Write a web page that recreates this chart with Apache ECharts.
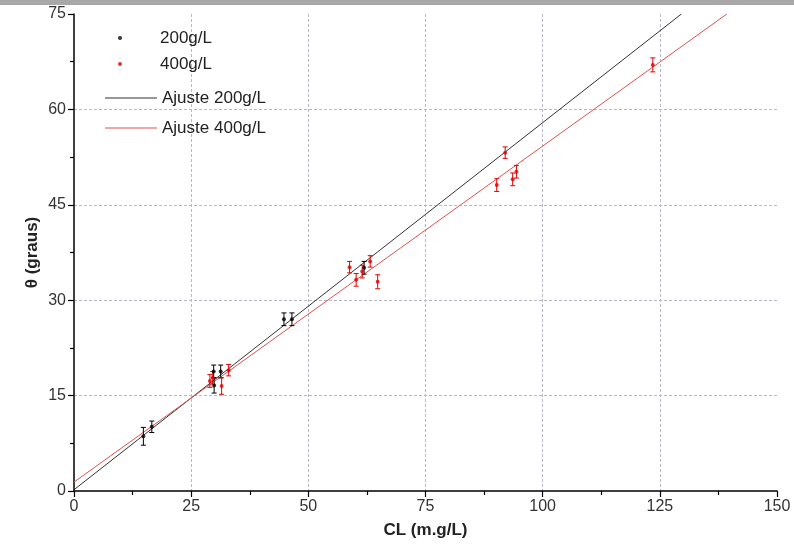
<!DOCTYPE html>
<html>
<head>
<meta charset="utf-8">
<script src="https://cdn.jsdelivr.net/npm/echarts@6/dist/echarts.min.js"></script>
<style>html,body{margin:0;padding:0;background:#fff}#c{width:794px;height:556px}</style>
</head>
<body>
<div id="c"></div>
<script>
// 200g/L measurements
const x200 = [14.8, 16.6, 29.8, 31.3, 29.9, 44.8, 46.5, 61.9];
const y200 = [8.6, 10.1, 18.8, 18.8, 16.6, 27.0, 27.0, 35.1];
const e200 = [1.4, 0.9, 1.0, 1.0, 1.2, 1.0, 1.0, 1.0];
// 400g/L measurements
const x400 = [29.0, 29.6, 31.5, 33.0, 58.8, 60.2, 61.5, 63.2, 64.8, 90.2, 92.0, 93.6, 94.4, 123.5];
const y400 = [17.3, 17.8, 16.5, 19.0, 35.2, 33.2, 34.5, 36.1, 32.9, 48.1, 53.2, 49.0, 50.2, 67.0];
const e400 = [1.0, 1.0, 1.3, 0.9, 0.9, 1.0, 1.0, 0.9, 1.1, 1.0, 0.9, 1.0, 1.0, 1.1];
// fit lines (endpoints)
const fit200X = [0, 129.6];
const fit200Y = [0.2, 75];
const fit400X = [0, 139.3];
const fit400Y = [1.4, 75];
// ticks
const xTicks = [0, 25, 50, 75, 100, 125, 150];
const yTicks = [0, 15, 30, 45, 60, 75];

const pts = (xs, ys) => xs.map((x, i) => [x, ys[i]]);
const errs = (xs, ys, es) => xs.map((x, i) => [x, ys[i] - es[i], ys[i] + es[i]]);

function errRender(color) {
  return function (params, api) {
    const x = api.value(0);
    const lo = api.coord([x, api.value(1)]);
    const hi = api.coord([x, api.value(2)]);
    const w = 2.5;
    const st = { stroke: color, lineWidth: 1 };
    return {
      type: 'group',
      children: [
        { type: 'line', shape: { x1: lo[0], y1: lo[1], x2: hi[0], y2: hi[1] }, style: st },
        { type: 'line', shape: { x1: lo[0] - w, y1: lo[1], x2: lo[0] + w, y2: lo[1] }, style: st },
        { type: 'line', shape: { x1: hi[0] - w, y1: hi[1], x2: hi[0] + w, y2: hi[1] }, style: st }
      ]
    };
  };
}

const FONT = 'Liberation Sans';
const chart = echarts.init(document.getElementById('c'), null, { renderer: 'canvas' });
const gridLine = { show: true, showMinLine: false, showMaxLine: false, lineStyle: { color: '#b8b8c8', type: [3, 2], width: 1 } };

chart.setOption({
  animation: false,
  backgroundColor: '#fff',
  textStyle: { fontFamily: FONT },
  graphic: [{ type: 'rect', left: 0, top: 0, shape: { width: 794, height: 5 }, style: { fill: '#a8a8a8' } }],
  grid: { left: 74, right: 17, top: 14, bottom: 65 },
  legend: [
    {
      data: ['200g/L', '400g/L'],
      orient: 'vertical', left: 113, top: 23,
      itemWidth: 4, itemHeight: 4, itemGap: 6, icon: 'circle',
      textStyle: { fontSize: 17, color: '#222', fontFamily: FONT, lineHeight: 20, padding: [0, 0, 0, 33] }
    },
    {
      data: ['Ajuste 200g/L', 'Ajuste 400g/L'],
      orient: 'vertical', left: 100, top: 83,
      itemWidth: 52, itemHeight: 1.2, itemGap: 10, icon: 'rect',
      textStyle: { fontSize: 17, color: '#222', fontFamily: FONT, lineHeight: 20 }
    }
  ],
  xAxis: {
    type: 'value', min: xTicks[0], max: xTicks[xTicks.length - 1], interval: 25,
    name: 'CL (m.g/L)', nameLocation: 'middle', nameGap: 31, nameMoveOverlap: false,
    nameTextStyle: { fontSize: 17, fontWeight: 'bold', color: '#222', fontFamily: FONT },
    axisLine: { show: true, onZero: false, lineStyle: { color: '#000', width: 1.5 } },
    axisTick: { show: true, length: 6, lineStyle: { color: '#000', width: 1.2 } },
    minorTick: { show: true, splitNumber: 2, length: 4, lineStyle: { color: '#000', width: 1.2 } },
    axisLabel: { fontSize: 16, color: '#333', margin: 8, fontFamily: FONT },
    splitLine: gridLine
  },
  yAxis: {
    type: 'value', min: yTicks[0], max: yTicks[yTicks.length - 1], interval: 15,
    name: 'θ (graus)', nameLocation: 'middle', nameGap: 33, nameRotate: 90, nameMoveOverlap: false,
    nameTextStyle: { fontSize: 17, fontWeight: 'bold', color: '#222', fontFamily: FONT },
    axisLine: { show: true, onZero: false, lineStyle: { color: '#000', width: 1.5 } },
    axisTick: { show: true, length: 6, lineStyle: { color: '#000', width: 1.2 } },
    minorTick: { show: true, splitNumber: 2, length: 4, lineStyle: { color: '#000', width: 1.2 } },
    axisLabel: { fontSize: 16, color: '#333', margin: 8, fontFamily: FONT },
    splitLine: gridLine
  },
  series: [
    {
      name: 'Ajuste 200g/L', type: 'line', data: pts(fit200X, fit200Y),
      symbol: 'none', lineStyle: { color: '#333', width: 1 }, itemStyle: { color: '#333' }, z: 2
    },
    {
      name: 'Ajuste 400g/L', type: 'line', data: pts(fit400X, fit400Y),
      symbol: 'none', lineStyle: { color: '#e05050', width: 1 }, itemStyle: { color: '#e05050' }, z: 2
    },
    {
      name: '200g/L', type: 'scatter', data: pts(x200, y200), symbol: 'circle', symbolSize: 4,
      itemStyle: { color: '#000' }, z: 4
    },
    {
      name: '400g/L', type: 'scatter', data: pts(x400, y400), symbol: 'circle', symbolSize: 4,
      itemStyle: { color: '#e00000' }, z: 4
    },
    {
      name: 'err200', type: 'custom', data: errs(x200, y200, e200), encode: { x: 0, y: [1, 2] },
      renderItem: errRender('#000'), z: 3, silent: true
    },
    {
      name: 'err400', type: 'custom', data: errs(x400, y400, e400), encode: { x: 0, y: [1, 2] },
      renderItem: errRender('#e00000'), z: 3, silent: true
    }
  ]
});
</script>
</body>
</html>
